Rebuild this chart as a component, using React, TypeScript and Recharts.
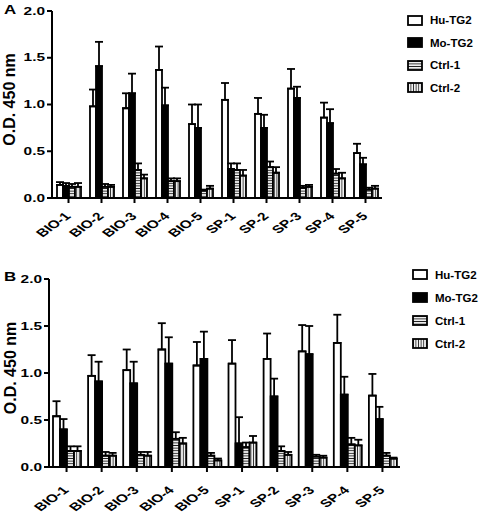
import React from 'react';
import { BarChart, Bar, XAxis, YAxis, ErrorBar, Legend, Label } from 'recharts';

const categories = ['BIO-1', 'BIO-2', 'BIO-3', 'BIO-4', 'BIO-5', 'SP-1', 'SP-2', 'SP-3', 'SP-4', 'SP-5'];
const yTicks = [0, 0.5, 1, 1.5, 2];

// panel A
const huA = [0.14, 0.98, 0.96, 1.37, 0.79, 1.05, 0.9, 1.17, 0.86, 0.48];
const huAErr = [0.03, 0.18, 0.16, 0.25, 0.21, 0.18, 0.17, 0.21, 0.16, 0.1];
const moA = [0.13, 1.41, 1.12, 0.99, 0.75, 0.31, 0.75, 1.07, 0.8, 0.36];
const moAErr = [0.03, 0.26, 0.21, 0.19, 0.25, 0.06, 0.14, 0.12, 0.15, 0.07];
const c1A = [0.12, 0.12, 0.3, 0.18, 0.08, 0.3, 0.33, 0.11, 0.26, 0.09];
const c1AErr = [0.03, 0.03, 0.07, 0.03, 0.01, 0.07, 0.06, 0.02, 0.05, 0.02];
const c2A = [0.12, 0.12, 0.21, 0.18, 0.1, 0.24, 0.27, 0.12, 0.21, 0.1];
const c2AErr = [0.04, 0.02, 0.04, 0.03, 0.03, 0.06, 0.06, 0.02, 0.06, 0.03];

// panel B
const huB = [0.54, 0.97, 1.03, 1.25, 1.08, 1.1, 1.15, 1.23, 1.32, 0.76];
const huBErr = [0.16, 0.22, 0.22, 0.28, 0.25, 0.25, 0.27, 0.28, 0.3, 0.23];
const moB = [0.4, 0.91, 0.89, 1.1, 1.15, 0.25, 0.75, 1.2, 0.77, 0.51];
const moBErr = [0.11, 0.21, 0.23, 0.28, 0.29, 0.28, 0.19, 0.3, 0.19, 0.13];
const c1B = [0.17, 0.12, 0.13, 0.3, 0.12, 0.21, 0.17, 0.11, 0.24, 0.12];
const c1BErr = [0.05, 0.04, 0.03, 0.07, 0.03, 0.05, 0.05, 0.02, 0.07, 0.03];
const c2B = [0.17, 0.12, 0.12, 0.25, 0.07, 0.26, 0.13, 0.1, 0.23, 0.09];
const c2BErr = [0.05, 0.03, 0.04, 0.06, 0.02, 0.07, 0.03, 0.02, 0.06, 0.01];

const FONT = '"Liberation Sans", Arial, sans-serif';

const series = [
  { key: 'hu', name: 'Hu-TG2', fill: '#fff' },
  { key: 'mo', name: 'Mo-TG2', fill: '#000' },
  { key: 'c1', name: 'Ctrl-1', fill: 'url(#hstripe)' },
  { key: 'c2', name: 'Ctrl-2', fill: 'url(#vstripe)' },
];

function buildRows(hu, huE, mo, moE, c1, c1E, c2, c2E) {
  return categories.map((name, i) => ({
    name,
    hu: hu[i], huErr: [0, huE[i]],
    mo: mo[i], moErr: [0, moE[i]],
    c1: c1[i], c1Err: [0, c1E[i]],
    c2: c2[i], c2Err: [0, c2E[i]],
  }));
}

const rowsA = buildRows(huA, huAErr, moA, moAErr, c1A, c1AErr, c2A, c2AErr);
const rowsB = buildRows(huB, huBErr, moB, moBErr, c1B, c1BErr, c2B, c2BErr);

const YTick = (props: any) => {
  const { x, y, payload } = props;
  return (
    <text transform={`translate(${x},${y}) scale(1.4,1)`} textAnchor="end" dominantBaseline="central"
      fontFamily={FONT} fontWeight="bold" fontSize={11} fill="#000">
      {Number(payload.value).toFixed(1)}
    </text>
  );
};

const makeXTick = (dx: number, dy: number) => (props: any) => {
  const { x, y, payload } = props;
  return (
    <text transform={`translate(${x + dx},${y + dy}) scale(1.4,1) rotate(-45)`} textAnchor="end"
      fontFamily={FONT} fontWeight="bold" fontSize={11} fill="#000">
      {payload.value}
    </text>
  );
};

const yLabel = (bx: number) => (props: any) => {
  const { viewBox } = props;
  const cy = viewBox.y + viewBox.height / 2 - 5;
  return (
    <text x={bx} y={cy} transform={`rotate(-90, ${bx}, ${cy})`} textAnchor="middle"
      fontFamily={FONT} fontWeight="bold" fontSize={16} fill="#000">
      O.D. 450 nm
    </text>
  );
};

const legendContent = (rowH: number) => (props: any) => {
  const { payload } = props;
  const items = series.filter((s) => payload.some((p: any) => p.value === s.name));
  return (
    <div style={{ fontFamily: FONT, fontWeight: 'bold', fontSize: 11.5 }}>
      {items.map((s) => (
        <div key={s.name} style={{ height: rowH, display: 'flex', alignItems: 'center' }}>
          <svg width={16} height={11} style={{ marginRight: 7 }}>
            <rect x={1} y={1} width={14} height={9} fill={s.fill} stroke="#000" strokeWidth={1.8} />
          </svg>
          <span>{s.name}</span>
        </div>
      ))}
    </div>
  );
};

const Patterns = () => (
  <defs>
    <pattern id="hstripe" patternUnits="userSpaceOnUse" width={4} height={2.6}>
      <rect width={4} height={2.6} fill="#fff" />
      <line x1={0} y1={1.3} x2={4} y2={1.3} stroke="#222" strokeWidth={1} />
    </pattern>
    <pattern id="vstripe" patternUnits="userSpaceOnUse" width={2.6} height={4}>
      <rect width={2.6} height={4} fill="#fff" />
      <line x1={1.3} y1={0} x2={1.3} y2={4} stroke="#333" strokeWidth={1} />
    </pattern>
  </defs>
);

function Panel({ rows, letter, letterTop, height, margin, yWidth, xHeight, barSize, barGap, tickDx, tickDy, labelX, legendPos, legendRow }) {
  return (
    <div style={{ position: 'relative', width: 485, height }}>
      <div style={{ position: 'absolute', left: 4, top: letterTop, fontFamily: FONT, fontWeight: 'bold',
        fontSize: 13, transform: 'scaleX(1.3)', transformOrigin: 'left top', zIndex: 2 }}>{letter}</div>
      <BarChart width={485} height={height} data={rows} margin={margin} barSize={barSize} barGap={barGap}>
        <Patterns />
        <XAxis dataKey="name" interval={0} height={xHeight} tickSize={5}
          axisLine={{ stroke: '#000', strokeWidth: 2 }} tickLine={{ stroke: '#000', strokeWidth: 2 }}
          tick={makeXTick(tickDx, tickDy)} />
        <YAxis domain={[0, 2]} ticks={yTicks} width={yWidth} tickSize={5} interval={0}
          axisLine={{ stroke: '#000', strokeWidth: 2 }} tickLine={{ stroke: '#000', strokeWidth: 2 }}
          tick={<YTick />}>
          <Label content={yLabel(labelX)} />
        </YAxis>
        <Legend verticalAlign="top" align="right" layout="vertical" content={legendContent(legendRow)}
          wrapperStyle={{ left: legendPos[0], top: legendPos[1], width: 80 }} />
        {series.map((s) => (
          <Bar key={s.key} dataKey={s.key} name={s.name} fill={s.fill} stroke="#000" strokeWidth={1.8}
            isAnimationActive={false}>
            <ErrorBar dataKey={s.key + 'Err'} width={4} strokeWidth={1.8} stroke="#000" direction="y" />
          </Bar>
        ))}
      </BarChart>
    </div>
  );
}

export default function App() {
  return (
    <div style={{ position: 'absolute', left: 0, top: 0, width: 485, height: 515, background: '#fff' }}>
      <Panel rows={rowsA} letter="A" letterTop={2} height={257} margin={{ top: 11, right: 23, left: 0, bottom: 0 }}
        yWidth={52} xHeight={59} barSize={6} barGap={3} tickDx={3} tickDy={12} labelX={15}
        legendPos={[407, 9]} legendRow={22.5} />
      <Panel rows={rowsB} letter="B" letterTop={12} height={258} margin={{ top: 22, right: 5, left: 0, bottom: 0 }}
        yWidth={49} xHeight={48} barSize={7} barGap={2.5} tickDx={3} tickDy={17} labelX={16}
        legendPos={[412, 6]} legendRow={23} />
    </div>
  );
}
